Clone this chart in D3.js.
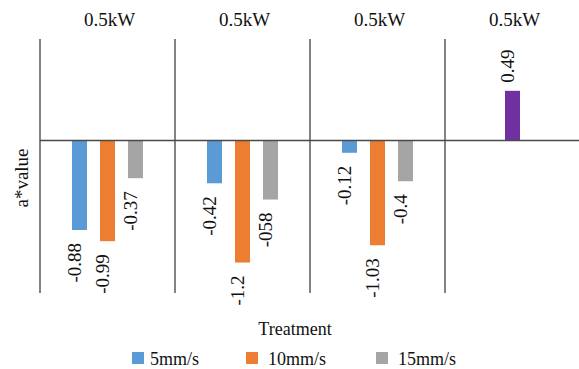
<!DOCTYPE html>
<html>
<head>
<meta charset="utf-8">
<script src="https://cdn.jsdelivr.net/npm/d3@7"></script>
<style>
  html, body { margin: 0; padding: 0; background: #fff; }
  #chart { width: 579px; height: 369px; }
</style>
</head>
<body>
<div id="chart"></div>
<script>
const categories = ["0.5kW", "0.5kW", "0.5kW", "0.5kW"];
const seriesNames = ["5mm/s", "10mm/s", "15mm/s"];
const values5 = [-0.88, -0.42, -0.12, null];
const values10 = [-0.99, -1.2, -1.03, 0.49];
const values15 = [-0.37, -0.58, -0.4, null];
const labels5 = ["-0.88", "-0.42", "-0.12", null];
const labels10 = ["-0.99", "-1.2", "-1.03", "0.49"];
const labels15 = ["-0.37", "-058", "-0.4", null];
const yDomain = [-1.5, 1];

function renderChart(selector = "#chart") {
    const width = 579;
    const height = 369;
    const serif = "'Liberation Serif', 'Times New Roman', serif";

    const seriesColors = { "5mm/s": "#5b9bd5", "10mm/s": "#ed7d31", "15mm/s": "#a5a5a5" };
    const extraColor = "#7030a0"; // last group bar is purple in the original

    const svg = d3.select(selector).append("svg")
        .attr("width", width)
        .attr("height", height)
        .style("font-family", serif);

    const x0 = d3.scaleBand()
        .domain(categories.map((d, i) => i))
        .range([40, 580])
        .padding(0);

    const bw = x0.bandwidth();
    const x1 = d3.scaleBand()
        .domain(seriesNames)
        .range([bw / 2 - 42, bw / 2 + 42])
        .paddingInner(13 / 28)
        .paddingOuter(13 / 56);

    const y = d3.scaleLinear()
        .domain(yDomain)
        .range([293, 39]);

    // group dividers
    svg.append("g")
        .selectAll("line")
        .data(categories.map((d, i) => i))
        .join("line")
        .attr("x1", i => x0(i))
        .attr("x2", i => x0(i))
        .attr("y1", y(yDomain[1]))
        .attr("y2", y(yDomain[0]))
        .attr("stroke", "#5a5a5a")
        .attr("stroke-width", 1.5);

    // category labels on top
    svg.append("g")
        .selectAll("text")
        .data(categories)
        .join("text")
        .attr("x", (d, i) => x0(i) + bw / 2 + 2)
        .attr("y", 26)
        .attr("text-anchor", "middle")
        .attr("fill", "#111")
        .style("font-size", "19px")
        .text(d => d);

    const rows = [];
    const sets = [[values5, labels5], [values10, labels10], [values15, labels15]];
    categories.forEach((c, i) => {
        seriesNames.forEach((s, j) => {
            const v = sets[j][0][i];
            if (v == null) return;
            rows.push({
                i, s, v,
                label: sets[j][1][i],
                color: i === categories.length - 1 ? extraColor : seriesColors[s]
            });
        });
    });

    const bars = svg.append("g");
    bars.selectAll("rect")
        .data(rows)
        .join("rect")
        .attr("x", d => x0(d.i) + x1(d.s))
        .attr("width", x1.bandwidth())
        .attr("y", d => y(Math.max(0, d.v)))
        .attr("height", d => Math.abs(y(d.v) - y(0)))
        .attr("fill", d => d.color);

    // zero line
    svg.append("line")
        .attr("x1", 40)
        .attr("x2", width)
        .attr("y1", y(0))
        .attr("y2", y(0))
        .attr("stroke", "#4a4a4a")
        .attr("stroke-width", 1.5);

    // value labels, rotated
    svg.append("g")
        .selectAll("text")
        .data(rows)
        .join("text")
        .attr("transform", d => {
            const cx = x0(d.i) + x1(d.s) + x1.bandwidth() / 2 - 5;
            const ty = d.v < 0 ? y(d.v) + 13 : y(d.v) - 8;
            return `translate(${cx},${ty}) rotate(-90)`;
        })
        .attr("dy", "0.35em")
        .attr("text-anchor", d => d.v < 0 ? "end" : "start")
        .attr("fill", "#111")
        .style("font-size", "19px")
        .text(d => d.label);

    // axis titles
    svg.append("text")
        .attr("transform", "translate(28,178) rotate(-90)")
        .attr("text-anchor", "middle")
        .attr("fill", "#111")
        .style("font-size", "19px")
        .text("a*value");

    svg.append("text")
        .attr("x", 295)
        .attr("y", 335)
        .attr("text-anchor", "middle")
        .attr("fill", "#111")
        .style("font-size", "18px")
        .text("Treatment");

    // legend
    const legendX = [132, 246, 376];
    const legend = svg.append("g");
    seriesNames.forEach((s, j) => {
        const g = legend.append("g").attr("transform", `translate(${legendX[j]},352)`);
        g.append("rect")
            .attr("width", 12)
            .attr("height", 12)
            .attr("fill", seriesColors[s]);
        g.append("text")
            .attr("x", 19 + (j === 0 ? -1 : 3))
            .attr("y", 13)
            .attr("fill", "#111")
            .style("font-size", "18px")
            .text(s);
    });
}

renderChart();
</script>
</body>
</html>
